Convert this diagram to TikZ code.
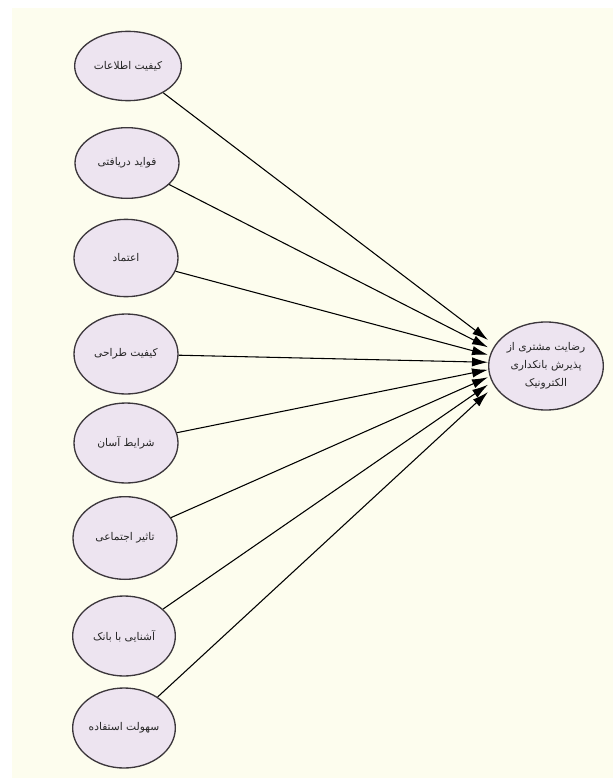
\documentclass[tikz,border=0pt]{standalone}
\usepackage{fontspec}
\usepackage{xcolor}
\usepackage{tikz}
\usetikzlibrary{arrows.meta,shapes.geometric}
\TeXXeTstate=1
\newfontfamily\farsifont[Script=Arabic]{DejaVu Sans}
\definecolor{PapelCrema}{RGB}{253,253,238}
\definecolor{LilaFactor}{RGB}{237,228,240}
\definecolor{BordeGris}{RGB}{60,55,60}

\begin{document}
\begin{tikzpicture}[x=0.75pt,y=-0.75pt,>={Latex[length=12pt,width=7pt]},
  factor/.style={ellipse,draw=BordeGris,line width=1pt,fill=LilaFactor,
    minimum width=78pt,minimum height=60pt,inner sep=0pt,text=black!85,
    font=\farsifont\fontsize{8}{13.5}\selectfont},
  enlace/.style={->,line width=0.8pt,black}]
  \useasboundingbox (0,0) rectangle (613,778);
  \fill[PapelCrema] (12,8) rectangle (613,778);
  % factores
  \node[factor,minimum height=52pt,minimum width=80pt] (kif) at (128,66) {\beginR کیفیت اطلاعات\endR};
  \node[factor,minimum height=53pt] (fav) at (127,163) {\beginR فواید دریافتی\endR};
  \node[factor,minimum height=58pt] (etm) at (126,258) {\beginR اعتماد\endR};
  \node[factor] (tar) at (126,354) {\beginR کیفیت طراحی\endR};
  \node[factor] (shr) at (126,443) {\beginR شرایط آسان\endR};
  \node[factor,minimum height=62pt] (taa) at (125,538) {\beginR تاثیر اجتماعی\endR};
  \node[factor,minimum width=77pt] (ash) at (124,636) {\beginR آشنایی با بانک\endR};
  \node[factor,minimum width=77pt] (sah) at (124,728) {\beginR سهولت استفاده\endR};
  % resultado
  \node[factor,minimum width=86pt,minimum height=66pt,align=center] (rez) at (546,366)
    {\beginR رضایت مشتری از\endR\\\beginR پذیرش بانکداری\endR\\\beginR الکترونیک\endR};
  \draw[enlace] (kif) -- ([yshift=19.5pt]rez.west);
  \draw[enlace] (fav) -- ([yshift=14pt]rez.west);
  \draw[enlace] (etm) -- ([yshift=8.4pt]rez.west);
  \draw[enlace] (tar) -- ([yshift=2.8pt]rez.west);
  \draw[enlace] (shr) -- ([yshift=-2.8pt]rez.west);
  \draw[enlace] (taa) -- ([yshift=-8.4pt]rez.west);
  \draw[enlace] (ash) -- ([yshift=-14pt]rez.west);
  \draw[enlace] (sah) -- ([yshift=-19.5pt]rez.west);
\end{tikzpicture}
\end{document}
